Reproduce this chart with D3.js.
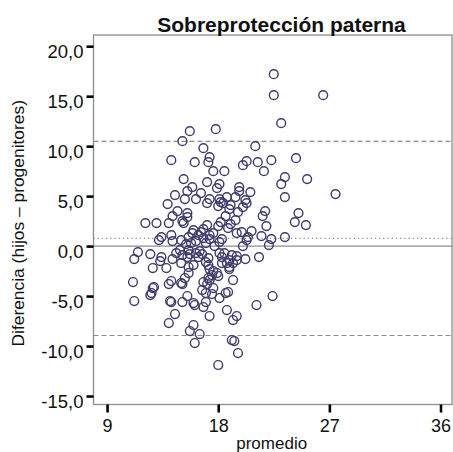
<!DOCTYPE html>
<html>
<head>
<meta charset="utf-8">
<script src="https://cdn.jsdelivr.net/npm/d3@7"></script>
<style>
  html, body { margin: 0; padding: 0; background: #fff; }
  svg { display: block; font-family: "Liberation Sans", Arial, sans-serif; }
</style>
</head>
<body>
<svg id="chart" width="453" height="452"></svg>
<script>
// Bland–Altman: promedio (media de ambos informantes) vs diferencia (hijos – progenitores)
const promedio = [
  22.5, 22.5, 26.5, 23.1, 15.7, 17.8, 15.1, 21.0, 16.8, 17.3, 14.2, 16.1, 17.2, 20.3, 20.0, 21.2, 22.3, 24.3,
  17.6, 18.5, 21.7, 15.2, 17.1, 18.1, 17.9, 23.4, 23.1, 25.2,
  15.9, 15.5, 19.7, 19.7, 20.6, 16.6, 14.5, 15.3, 16.2, 17.3, 18.1, 18.2, 17.1, 19.4, 20.2, 20.3, 20.0, 23.4,
  27.5, 13.9, 19.0, 18.0, 18.9, 19.6, 21.8, 21.6, 14.7, 15.5, 15.5, 14.3, 18.6, 24.5, 18.4, 18.7,
  14.0, 15.2, 15.1, 12.1, 13.0, 18.2, 18.0, 19.0, 18.8, 19.4, 17.1, 16.8, 16.6, 24.2, 25.1, 21.9, 20.7, 19.9,
  19.5, 23.4, 21.5, 22.3, 22.1, 20.4, 20.3, 20.0, 14.2, 13.4, 13.2, 14.3, 15.9, 15.6, 15.0, 16.2, 17.3, 17.3,
  18.3, 18.1, 17.0, 16.0, 16.4, 17.6, 16.8, 15.4, 17.7, 15.8,
  11.5, 11.2, 12.5, 13.4, 13.3, 14.3, 13.8, 12.7, 14.9, 14.6, 15.1, 15.6, 15.7, 15.5, 15.0, 16.0, 16.5, 16.7,
  16.4, 16.2, 17.2, 17.0, 17.2, 17.3, 17.6, 17.5, 17.2, 17.3, 16.8, 17.1, 16.7, 17.0, 18.1, 18.5, 18.3, 19.1,
  19.5, 19.5, 19.2, 18.9, 18.9, 18.7, 18.3, 18.9, 20.2, 21.3, 17.9, 18.0, 19.2, 17.6, 15.6, 15.6, 15.3, 15.0,
  15.1, 14.2, 14.0, 11.1, 12.8, 12.7, 12.6, 12.5, 18.6, 18.8, 18.1, 17.5, 11.2, 14.2, 14.1, 15.1, 15.5, 16.0,
  16.1, 17.0, 16.8, 22.4, 21.1, 14.5, 14.0, 18.7, 19.5, 19.2, 17.3, 16.0, 15.7, 16.5, 16.1, 19.1, 19.3, 19.6,
  18.0
];
const diferencia = [
  17.2, 15.1, 15.1, 12.3, 11.5, 11.7, 10.5, 10.0, 9.8, 8.9, 8.6, 8.4, 8.4, 8.5, 8.1, 8.4, 8.6, 8.8,
  7.5, 7.5, 7.5, 6.7, 6.4, 6.2, 5.8, 6.9, 6.2, 6.7,
  5.9, 5.5, 5.9, 5.5, 5.4, 5.3, 5.1, 4.7, 4.7, 4.7, 4.7, 4.4, 4.3, 4.9, 4.6, 4.3, 3.9, 4.9,
  5.2, 4.2, 4.1, 4.0, 3.7, 3.4, 3.5, 3.0, 3.5, 3.3, 2.9, 3.0, 3.0, 3.3, 4.3, 4.9,
  2.3, 2.3, 2.5, 2.3, 2.3, 2.4, 2.0, 2.2, 1.8, 2.6, 2.1, 1.7, 1.4, 2.4, 2.1, 2.0, 1.5, 1.4,
  1.3, 0.9, 1.0, 0.7, 0.1, 0.9, 0.6, 0.0, 1.1, 0.9, 0.6, 0.5, 1.3, 0.9, 0.6, 0.5, 1.1, 0.7,
  0.7, 0.4, 0.3, 1.6, 1.1, 1.3, 0.8, 0.2, 0.0, 0.3,
  -0.6, -1.3, -0.8, -1.1, -1.5, -1.3, -2.2, -2.2, -0.4, -0.7, -0.9, -0.4, -0.8, -1.1, -1.7, -1.9, -0.5, -0.8,
  -1.1, -0.7, -1.2, -1.6, -1.9, -2.3, -2.5, -2.9, -3.2, -3.4, -3.6, -3.8, -4.4, -4.7, -0.7, -0.7, -1.1, -0.9,
  -1.0, -1.4, -1.7, -2.1, -2.3, -1.7, -1.7, -1.4, -1.3, -1.1, -2.7, -3.0, -3.4, -4.2, -2.1, -2.7, -3.2, -3.7,
  -3.8, -3.5, -3.8, -3.6, -4.1, -4.2, -4.7, -4.9, -4.7, -4.6, -5.2, -4.8, -5.5, -5.6, -5.5, -5.6, -5.0, -5.7,
  -5.9, -5.6, -6.1, -5.0, -5.9, -6.8, -7.7, -6.4, -7.0, -7.4, -7.0, -7.9, -8.5, -8.8, -9.7, -9.4, -9.5, -10.7,
  -11.9
];

// Líneas de referencia: cero, diferencia media y límites de acuerdo (±1,96 DE)
const lineaCero = 0;
const diferenciaMedia = 0.77;
const limitesAcuerdo = [10.48, -8.94];

const ticksX = [9, 18, 27, 36];
const ticksY = [20, 15, 10, 5, 0, -5, -10, -15];

const svg = d3.select("#chart");
const margen = { left: 93.5, right: 452, top: 35, bottom: 404.5 };

const x = d3.scaleLinear().domain([7.9, 36.93]).range([margen.left, margen.right]);
const y = d3.scaleLinear().domain([-15.85, 21.12]).range([margen.bottom, margen.top]);

// Coma decimal y guion simple como signo negativo
const fmt = d => (d < 0 ? "-" : "") + Math.abs(d).toFixed(1).replace(".", ",");

// Marco del área de trazado
svg.append("rect")
  .attr("x", margen.left).attr("y", margen.top)
  .attr("width", margen.right - margen.left).attr("height", margen.bottom - margen.top)
  .attr("fill", "none").attr("stroke", "#8c8c8c").attr("stroke-width", 1.3);

// Líneas horizontales de referencia
const ref = svg.append("g").attr("stroke", "#8c8c8c").attr("stroke-width", 1.1);
ref.append("line")
  .attr("x1", margen.left).attr("x2", margen.right)
  .attr("y1", y(lineaCero)).attr("y2", y(lineaCero))
  .attr("stroke-width", 1.4);
ref.append("line")
  .attr("x1", margen.left).attr("x2", margen.right)
  .attr("y1", y(diferenciaMedia)).attr("y2", y(diferenciaMedia))
  .attr("stroke-dasharray", "1.2,3");
ref.selectAll("line.lim").data(limitesAcuerdo).join("line")
  .attr("class", "lim")
  .attr("x1", margen.left).attr("x2", margen.right)
  .attr("y1", d => y(d)).attr("y2", d => y(d))
  .attr("stroke-dasharray", "5,3");

// Puntos
svg.append("g")
  .selectAll("circle")
  .data(promedio.map((p, i) => [p, diferencia[i]]))
  .join("circle")
  .attr("cx", d => x(d[0]))
  .attr("cy", d => y(d[1]))
  .attr("r", 4.4)
  .attr("fill", "none")
  .attr("stroke", "#3e3b6b")
  .attr("stroke-width", 1.4);

// Eje Y
const axY = svg.append("g").attr("transform", `translate(${margen.left},0)`)
  .call(d3.axisLeft(y).tickValues(ticksY).tickFormat(fmt).tickSize(7).tickPadding(3));
axY.select(".domain").remove();
axY.selectAll(".tick line").attr("stroke", "#000").attr("stroke-width", 2.6);
axY.selectAll(".tick text")
  .attr("font-size", "18.5px").attr("fill", "#111")
  .attr("font-family", "Liberation Sans, Arial, sans-serif")
  .attr("dy", "0.62em");

// Eje X
const axX = svg.append("g").attr("transform", `translate(0,${margen.bottom})`)
  .call(d3.axisBottom(x).tickValues(ticksX).tickFormat(d3.format("d")).tickSize(8).tickPadding(7));
axX.select(".domain").remove();
axX.selectAll(".tick line").attr("stroke", "#000").attr("stroke-width", 2.6);
axX.selectAll(".tick text")
  .attr("font-size", "18px").attr("fill", "#111")
  .attr("font-family", "Liberation Sans, Arial, sans-serif");

// Títulos
svg.append("text")
  .attr("x", 281.5).attr("y", 31.5)
  .attr("text-anchor", "middle")
  .attr("font-size", "21px").attr("font-weight", "bold").attr("fill", "#111")
  .text("Sobreprotección paterna");

svg.append("text")
  .attr("x", 271.7).attr("y", 448.5)
  .attr("text-anchor", "middle")
  .attr("font-size", "17px").attr("fill", "#111")
  .text("promedio");

svg.append("text")
  .attr("transform", "translate(24.2,223.3) rotate(-90)")
  .attr("text-anchor", "middle")
  .attr("font-size", "17.4px").attr("fill", "#111")
  .text("Diferencia (hijos – progenitores)");
</script>
</body>
</html>
